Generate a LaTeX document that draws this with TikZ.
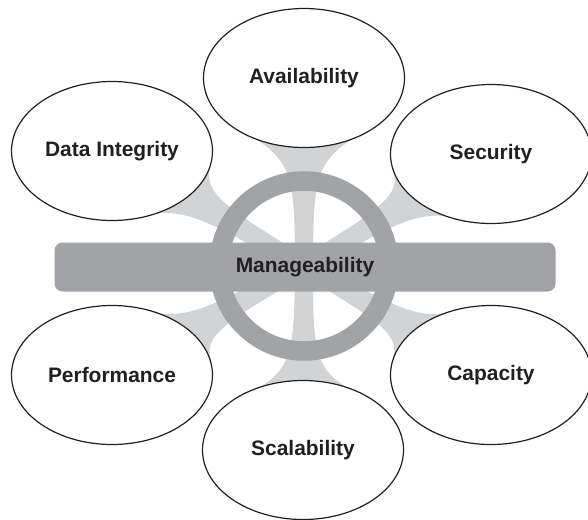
\documentclass[tikz,border=0pt]{standalone}
\usepackage{fontspec}
\setmainfont{Liberation Sans}
\usepackage{tikz}
\usetikzlibrary{shapes.geometric, calc, backgrounds}

\definecolor{ringgray}{HTML}{A2A3A7}
\definecolor{spokegray}{HTML}{D1D3D4}
\definecolor{inkgray}{HTML}{231F20}

\begin{document}
\begin{tikzpicture}[x=0.75pt, y=-0.75pt]
    \tikzstyle{goal} = [ellipse, draw=inkgray, line width=0.9pt, fill=white, minimum width=150.75pt, minimum height=104.25pt, inner sep=0pt, text=inkgray, font=\fontsize{15.7}{18}\selectfont\bfseries]
    \tikzstyle{hubring} = [circle, draw=ringgray, line width=14.6pt, minimum size=127.5pt, inner sep=0pt]
    \tikzstyle{bar} = [rectangle, fill=ringgray, rounded corners=6pt, minimum width=375.75pt, minimum height=36.75pt, text=inkgray, font=\fontsize{15.7}{18}\selectfont\bfseries]
    \tikzstyle{spoke} = [fill=spokegray]
    \useasboundingbox (0,0) rectangle (588,519);

    \node[hubring] (hub) at (304,266) {};
    \node[bar] (manage) at (305,267) {Manageability};

    \node[goal] (avail) at (304,78) {Availability};
    \node[goal] (integ) at (112,151) {Data Integrity};
    \node[goal] (secur) at (491,154) {Security};
    \node[goal] (perf) at (112,375) {Performance};
    \node[goal] (capac) at (491,375) {Capacity};
    \node[goal] (scal) at (303,450) {Scalability};

    % spokes from the hub out to each goal
    \begin{pgfonlayer}{background}
    \foreach \e/\p/\q in {avail/307/233, scal/123/57, integ/350/308, secur/232/190, perf/51/9, capac/171/129}
        \fill[spoke] ($(hub.center)!6.75pt!-90:(\e.center)$)
            .. controls ($(hub.center)!.45!(\e.center)!6.75pt!-90:(\e.center)$) and ($(hub.center)!.55!(\e.center)!9pt!-90:(\e.center)$) .. (\e.\p)
            -- (\e.center) -- (\e.\q)
            .. controls ($(hub.center)!.55!(\e.center)!9pt!90:(\e.center)$) and ($(hub.center)!.45!(\e.center)!6.75pt!90:(\e.center)$) .. ($(hub.center)!6.75pt!90:(\e.center)$)
            -- cycle;
    \end{pgfonlayer}
\end{tikzpicture}
\end{document}
